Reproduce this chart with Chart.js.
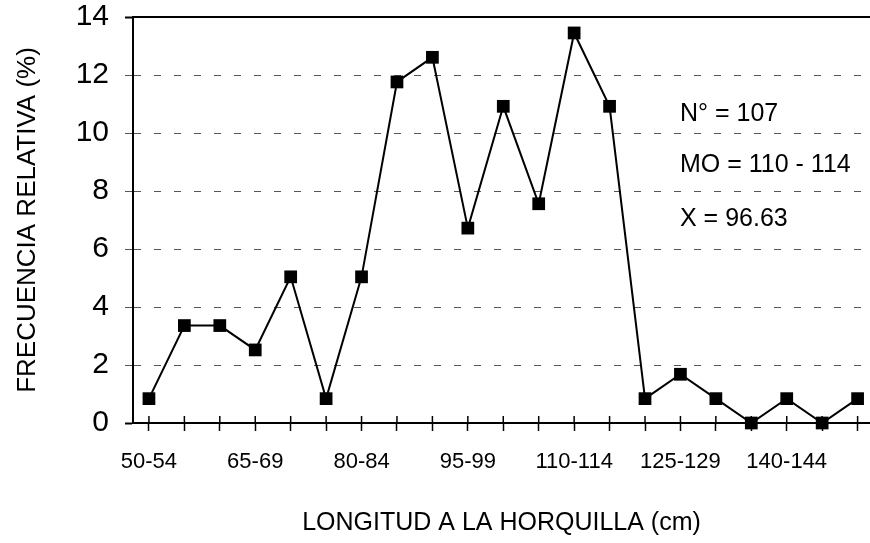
<!DOCTYPE html>
<html>
<head>
<meta charset="utf-8">
<script src="https://cdn.jsdelivr.net/npm/chart.js@4"></script>
<style>
  html, body { margin: 0; padding: 0; background: #fff; overflow: hidden; }
  #wrap { width: 870px; height: 543px; position: relative; }
</style>
</head>
<body>
<div id="wrap"><canvas id="c" width="870" height="543"></canvas></div>
<script>
// ---- data ----
const categories = ['50-54','55-59','60-64','65-69','70-74','75-79','80-84','85-89','90-94','95-99',
  '100-104','105-109','110-114','115-119','120-124','125-129','130-134','135-139','140-144','145-149','150-154'];
const frecuencia = [0.84, 3.36, 3.36, 2.52, 5.04, 0.84, 5.04, 11.76, 12.61, 6.72,
  10.92, 7.56, 13.45, 10.92, 0.84, 1.68, 0.84, 0, 0.84, 0, 0.84];
const labelEvery = 3;
const yTicks = [0, 2, 4, 6, 8, 10, 12, 14];
const annotations = ['N° = 107', 'MO = 110 - 114', 'X = 96.63'];
const xTitle = 'LONGITUD A LA HORQUILLA (cm)';
const yTitle = 'FRECUENCIA RELATIVA (%)';

const FONT = "'Liberation Sans', Arial, Helvetica, sans-serif";

const noPad = s => { s.paddingLeft = 0; s.paddingRight = 0; s.paddingTop = 0; s.paddingBottom = 0; };

const crossTicks = {
  id: 'crossTicks',
  afterDraw(chart) {
    const xs = chart.scales.x, ys = chart.scales.y, ctx = chart.ctx;
    const y0 = ys.getPixelForValue(0);
    ctx.save();
    ctx.strokeStyle = '#000';
    ctx.lineWidth = 1.5;
    xs.ticks.forEach(t => {
      const px = xs.getPixelForValue(t.value);
      ctx.beginPath();
      ctx.moveTo(px, y0 - 7);
      ctx.lineTo(px, y0);
      ctx.stroke();
    });
    // annotation text
    ctx.fillStyle = '#000';
    ctx.font = '25px ' + FONT;
    ctx.textAlign = 'left';
    ctx.textBaseline = 'alphabetic';
    const baselines = [ys.getPixelForValue(10.4), ys.getPixelForValue(8.65), ys.getPixelForValue(6.8)];
    annotations.forEach((s, i) => ctx.fillText(s, 680, baselines[i]));
    ctx.restore();
  }
};

new Chart(document.getElementById('c'), {
  type: 'line',
  data: {
    datasets: [{
      data: frecuencia.map((v, i) => ({ x: i, y: v })),
      borderColor: '#000',
      borderWidth: 2,
      backgroundColor: '#000',
      pointStyle: 'rect',
      pointRadius: 9,
      pointHoverRadius: 9,
      pointBackgroundColor: '#000',
      pointBorderWidth: 0,
      tension: 0,
      clip: false
    }]
  },
  options: {
    responsive: false,
    animation: false,
    events: [],
    layout: { padding: 0, autoPadding: false },
    plugins: { legend: { display: false }, tooltip: { enabled: false } },
    scales: {
      x: {
        type: 'linear',
        position: 'bottom',
        min: -0.45,
        max: 20.35,
        afterFit: s => { s.height = 120; noPad(s); },
        ticks: {
          stepSize: 1,
          autoSkip: false,
          includeBounds: false,
          maxRotation: 0,
          padding: 18,
          color: '#000',
          font: { family: FONT, size: 22 },
          callback: v => (Number.isInteger(v) && v % labelEvery === 0) ? categories[v] : ''
        },
        grid: {
          drawOnChartArea: false,
          drawTicks: true,
          tickLength: 8,
          tickColor: '#000',
          tickWidth: 1.5
        },
        border: { display: true, color: '#000', width: 2 },
        title: {
          display: true,
          text: xTitle,
          color: '#000',
          font: { family: FONT, size: 25 },
          padding: { top: 5, bottom: 5 }
        }
      },
      x2: {
        type: 'linear',
        position: 'top',
        min: -0.45,
        max: 20.35,
        afterFit: s => { s.height = 17; noPad(s); },
        ticks: { display: false },
        grid: { drawOnChartArea: false, drawTicks: false },
        border: { display: true, color: '#000', width: 2 }
      },
      y: {
        min: 0,
        max: 14,
        afterFit: s => { s.width = 133; noPad(s); },
        afterBuildTicks: s => { s.ticks = yTicks.map(v => ({ value: v })); },
        ticks: {
          stepSize: 2,
          padding: 16,
          color: '#000',
          font: { family: FONT, size: 30 }
        },
        grid: {
          color: c => (c.tick && (c.tick.value === 0 || c.tick.value === 14)) ? 'rgba(0,0,0,0)' : '#555',
          lineWidth: 1,
          tickLength: 8,
          tickColor: c => (c.tick && (c.tick.value === 0 || c.tick.value === 14)) ? '#000' : '#555',
          tickWidth: c => (c.tick && (c.tick.value === 0 || c.tick.value === 14)) ? 2 : 1
        },
        border: { display: true, color: '#000', width: 2, dash: [7, 13] },
        title: {
          display: true,
          text: yTitle,
          color: '#000',
          font: { family: FONT, size: 26 },
          padding: { top: 12, bottom: 12 }
        }
      }
    }
  },
  plugins: [crossTicks]
});
</script>
</body>
</html>
